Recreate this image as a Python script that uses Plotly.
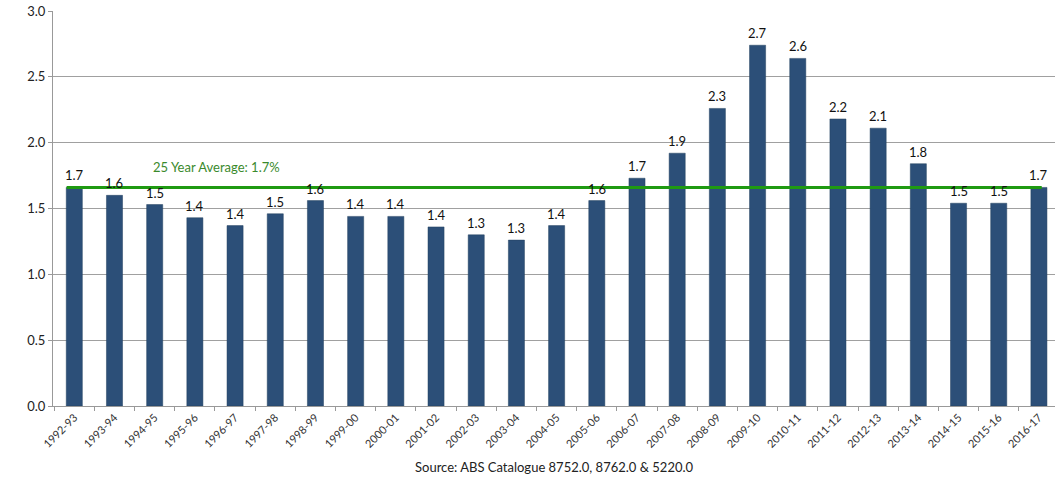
import plotly.graph_objects as go

# Financial years and annual values (%)
years = ["1992-93", "1993-94", "1994-95", "1995-96", "1996-97", "1997-98",
         "1998-99", "1999-00", "2000-01", "2001-02", "2002-03", "2003-04",
         "2004-05", "2005-06", "2006-07", "2007-08", "2008-09", "2009-10",
         "2010-11", "2011-12", "2012-13", "2013-14", "2014-15", "2015-16",
         "2016-17"]
values = [1.66, 1.60, 1.53, 1.43, 1.37, 1.46, 1.56, 1.44, 1.44, 1.36,
          1.30, 1.26, 1.37, 1.56, 1.73, 1.92, 2.26, 2.74, 2.64, 2.18,
          2.11, 1.84, 1.54, 1.54, 1.66]
average = 1.66
avg_label = "25 Year Average: 1.7%"
source_text = "Source: ABS Catalogue 8752.0, 8762.0 & 5220.0"

FONT = "Lato, 'Open Sans', sans-serif"
BAR = "#2c4f78"
GREEN = "#1f9a12"

fig = go.Figure()
fig.add_trace(go.Bar(
    x=years, y=values,
    marker=dict(color=BAR, line=dict(color="#22405f", width=0.5)),
    width=0.4,
    hoverinfo="x+y",
))

# value labels above each bar
for yr, v in zip(years, values):
    fig.add_annotation(x=yr, y=v, xref="x", yref="y", yshift=12,
                       text=f"{v:.1f}", showarrow=False,
                       font=dict(family=FONT, size=13, color="#111111"))

# 25-year average line
fig.add_shape(type="line", xref="x", yref="y",
              x0=-0.19, x1=24.07, y0=average, y1=average,
              line=dict(color=GREEN, width=3), layer="above")
fig.add_annotation(x=3.55, y=average, xref="x", yref="y", yshift=20,
                   text=avg_label, showarrow=False,
                   font=dict(family=FONT, size=13, color="#3a8a2c"))

fig.add_annotation(x=0.5, y=-0.155, xref="paper", yref="paper",
                   xanchor="center", yanchor="middle",
                   text=source_text, showarrow=False,
                   font=dict(family=FONT, size=13, color="#222222"))

fig.update_layout(
    width=1055, height=481,
    margin=dict(l=53, r=0, t=11, b=75),
    plot_bgcolor="white", paper_bgcolor="white",
    showlegend=False,
    font=dict(family=FONT),
    xaxis=dict(
        type="category",
        range=[-0.53, 24.4],
        tickangle=-45,
        tickfont=dict(family=FONT, size=11, color="#333333"),
        ticks="outside", tickson="boundaries", ticklen=4,
        tickcolor="#999999",
        showline=True, linecolor="#999999", linewidth=1,
        showgrid=False,
    ),
    yaxis=dict(
        range=[0, 3.0],
        tickvals=[0, 0.5, 1.0, 1.5, 2.0, 2.5, 3.0],
        ticktext=["0.0", "0.5", "1.0", "1.5", "2.0", "2.5", "3.0"],
        tickfont=dict(family=FONT, size=13, color="#222222"),
        ticks="outside", ticklen=4, tickcolor="#999999",
        showline=True, linecolor="#999999", linewidth=1,
        showgrid=True, gridcolor="#a0a0a0", gridwidth=1,
        zeroline=False,
    ),
)

fig.write_html("out.html")
